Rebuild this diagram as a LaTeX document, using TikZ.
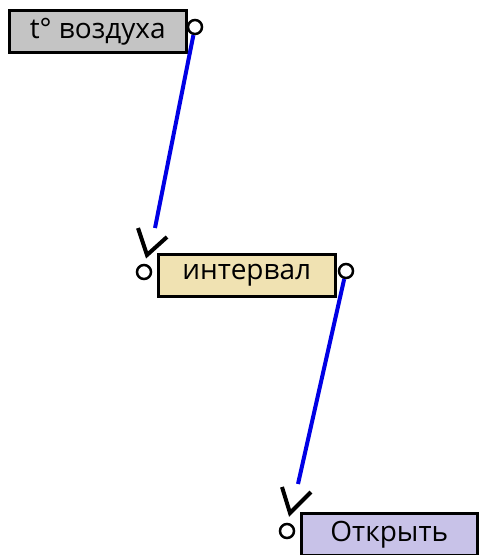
\documentclass[tikz,border=0pt]{standalone}
\usepackage{fontspec}
\setmainfont{Open Sans}
\begin{document}
\begin{tikzpicture}[x=1pt,y=-1pt,
  block/.style={draw=black, line width=2.5pt, minimum height=42pt, inner sep=0pt,
    font=\fontsize{28}{32}\selectfont, anchor=north west},
  port/.style={circle, draw=black, line width=2.5pt, fill=white, minimum size=14pt, inner sep=0pt},
  link/.style={draw=blue!90!black, line width=4pt},
  tick/.style={draw=black, line width=4pt}]
\useasboundingbox (0,0) rectangle (479,555);

% blocks
\node[block, fill=black!23, minimum width=177pt] (air) at (8,9) {t° воздуха};
\node[block, fill={rgb,255:red,240;green,226;blue,178}, minimum width=177pt] (intv) at (157,253) {интервал};
\node[block, fill={rgb,255:red,200;green,194;blue,232}, minimum width=176pt] (open) at (300,512) {Открыть};

% ports
\node[port] (airout) at (195,27) {};
\node[port] (intvin) at (144,272) {};
\node[port] (intvout) at (346,271) {};
\node[port] (openin) at (287,531) {};

% input marks
\coordinate (vintv) at (155,228);
\coordinate (vopen) at (298,484);
\draw[tick] (138,228) -- (147,255) -- (167,237);
\draw[tick] (282,487) -- (290,513) -- (311,492);

% links
\draw[link] (airout) -- (vintv);
\draw[link] (intvout) -- (vopen);
\end{tikzpicture}
\end{document}
